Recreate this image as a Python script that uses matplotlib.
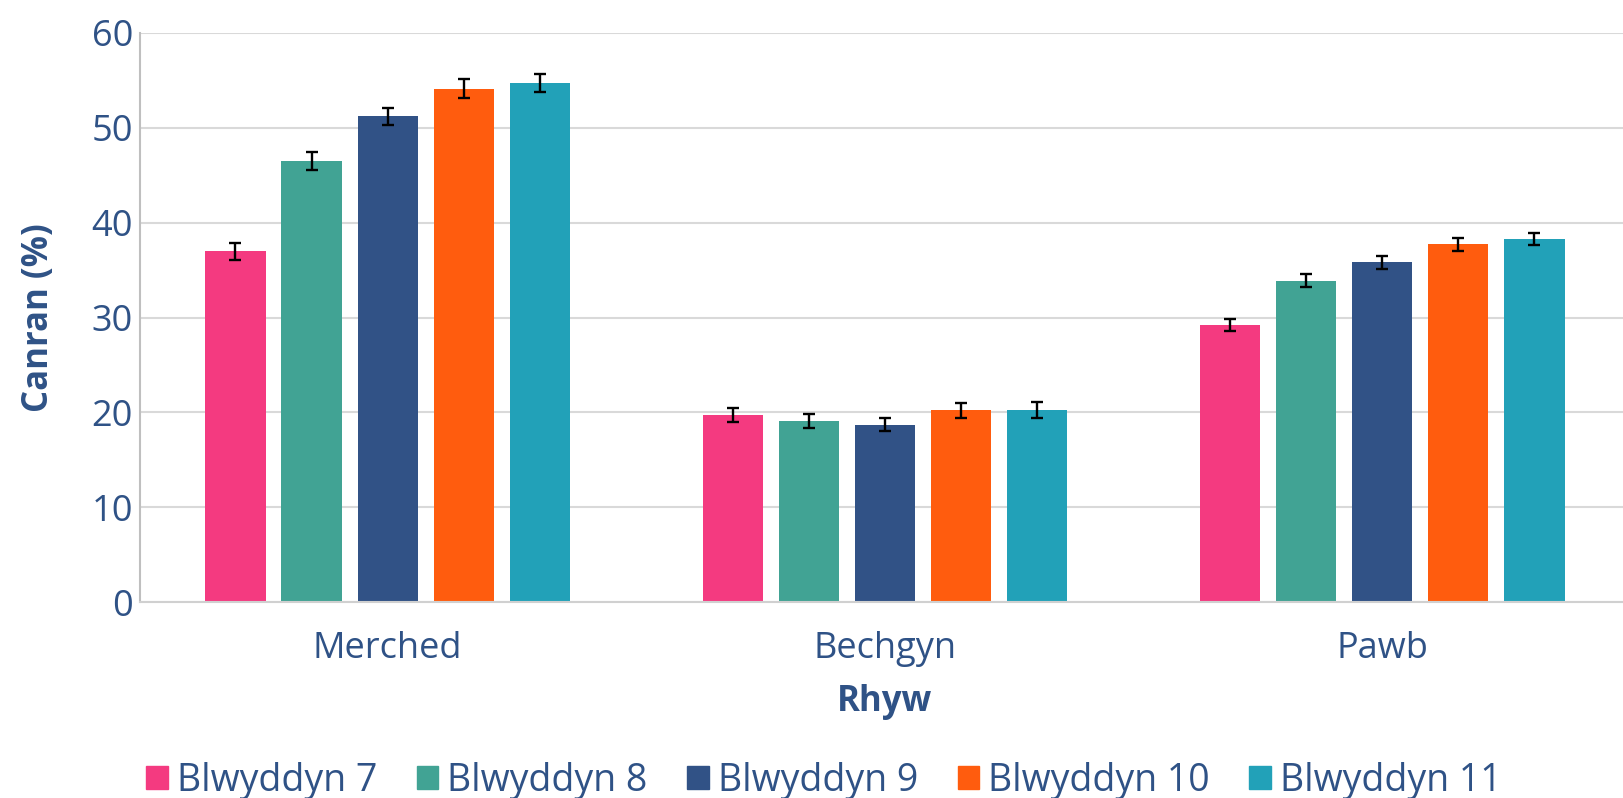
import matplotlib
matplotlib.use("Agg")
import matplotlib.pyplot as plt
import numpy as np

plt.rcParams['font.family'] = ['Open Sans', 'DejaVu Sans']

categories = ["Merched", "Bechgyn", "Pawb"]
series = ["Blwyddyn 7", "Blwyddyn 8", "Blwyddyn 9", "Blwyddyn 10", "Blwyddyn 11"]
values = {
    "Blwyddyn 7": [37.0, 19.7, 29.2],
    "Blwyddyn 8": [46.5, 19.1, 33.9],
    "Blwyddyn 9": [51.2, 18.7, 35.8],
    "Blwyddyn 10": [54.1, 20.2, 37.7],
    "Blwyddyn 11": [54.7, 20.2, 38.3],
}
errors = {
    "Blwyddyn 7": [0.9, 0.75, 0.65],
    "Blwyddyn 8": [0.95, 0.75, 0.65],
    "Blwyddyn 9": [0.85, 0.65, 0.65],
    "Blwyddyn 10": [1.0, 0.75, 0.65],
    "Blwyddyn 11": [0.95, 0.85, 0.65],
}
colors = ["#F43A80", "#41A394", "#315286", "#FF5C0E", "#22A1B8"]
yticks = [0, 10, 20, 30, 40, 50, 60]

text_color = "#2F5286"

W, H = 1623, 798
fig = plt.figure(figsize=(W / 100, H / 100), dpi=100)
ax = fig.add_axes([140 / W, 1 - 602 / H, 1 - 140 / W, (602 - 33) / H])

x = np.arange(len(categories))
step = 0.153
width = 0.121
for i, s in enumerate(series):
    pos = x + (i - 2) * step
    ax.bar(pos, values[s], width=width, color=colors[i], label=s, zorder=2)
    ax.errorbar(pos, values[s], yerr=errors[s], fmt='none', ecolor='black',
                elinewidth=1.7, capsize=4.3, capthick=1.7, zorder=3)

ax.set_xlim(-0.498, 2.484)
ax.set_ylim(0, 60)
ax.set_yticks(yticks)
ax.set_xticks(x)
ax.set_xticklabels(categories)
ax.tick_params(axis='both', length=0, labelsize=26, colors=text_color)
ax.tick_params(axis='x', pad=21)
ax.tick_params(axis='y', pad=5)
ax.yaxis.grid(True, color='#D9D9D9', linewidth=1.5, zorder=0)
ax.set_axisbelow(True)
for side in ['top', 'right']:
    ax.spines[side].set_visible(False)
ax.spines['left'].set_color('#BFBFBF')
ax.spines['left'].set_linewidth(1.5)
ax.spines['bottom'].set_color('#D0D0D0')
ax.spines['bottom'].set_linewidth(1.5)

fig.text(39 / W, 1 - 318 / H, "Canran (%)", rotation=90, ha='center', va='center',
         fontsize=25, fontweight='bold', color=text_color)
fig.text(885 / W, 1 - 702 / H, "Rhyw", ha='center', va='center',
         fontsize=25, fontweight='bold', color=text_color)

handles = [plt.Rectangle((0, 0), 1, 1, color=c) for c in colors]
fig.legend(handles, series, loc='center', bbox_to_anchor=(824 / W, 1 - 781 / H),
           ncol=5, frameon=False, fontsize=27, labelcolor=text_color,
           handlelength=0.57, handleheight=0.57, handletextpad=0.25, columnspacing=1.05,
           borderpad=0.0)

fig.savefig("out.png", dpi=100)
